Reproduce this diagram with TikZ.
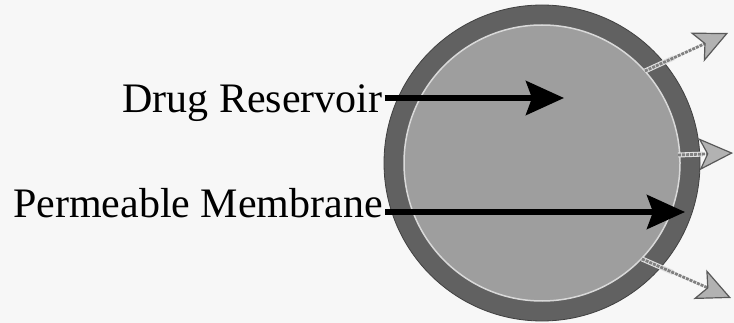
\documentclass[tikz,border=0pt]{standalone}
\usepackage{fontspec}
\setmainfont{Liberation Serif}
\usetikzlibrary{arrows.meta,calc}
\begin{document}
\begin{tikzpicture}[x=1pt,y=-1pt,
  lab/.style={inner sep=0pt, anchor=base west, font=\fontsize{42}{50}\selectfont},
  ringfill/.style={circle, minimum size=316pt, inner sep=0pt, fill=black!62, draw=black!75, line width=0.8pt},
  corefill/.style={circle, minimum size=276pt, inner sep=0pt, fill=black!38, draw=white!85!black, line width=1.5pt},
  bigarrow/.style={line width=5.5pt, -{Stealth[length=38pt, width=34pt, inset=6pt]}},
  outcase/.style={line width=5pt, white!88!black},
  outarrow/.style={line width=2.8pt, black!50, dash pattern=on 3pt off 1pt,
     -{Stealth[length=34pt, width=32pt, inset=8pt, fill=black!30, color=black!65, line width=1.2pt, sep=0pt]}}
]
\useasboundingbox (0,0) rectangle (734,323);
\fill[white!97!black] (0,0) rectangle (734,323);
% reservoir
\node[ringfill] (ring) at (542,163) {};
\node[corefill] (core) at (542,163) {};
% labels
\node[lab] (drug) at (122,113) {Drug Reservoir};
\node[lab] (memb) at (13,218) {Permeable Membrane};
% arrow ends
\coordinate (drugtip) at (564,98);
\coordinate (membtip) at (685,212);
\coordinate (o1s) at (645,71);
\coordinate (o1e) at (728,33);
\coordinate (o2s) at (678,155);
\coordinate (o2e) at (733,153);
\coordinate (o3s) at (642,259);
\coordinate (o3e) at (731,298);
% release arrows
\draw[outcase] (o1s) -- ($(o1s)!0.35!(o1e)$);
\draw[outcase] (o2s) -- ($(o2s)!0.45!(o2e)$);
\draw[outcase] (o3s) -- ($(o3s)!0.35!(o3e)$);
\draw[outarrow] (o1s) -- (o1e);
\draw[outarrow] (o2s) -- (o2e);
\draw[outarrow] (o3s) -- (o3e);
% label arrows
\draw[bigarrow] ([xshift=2pt,yshift=15pt]drug.base east) -- (drugtip);
\draw[bigarrow] ([xshift=2pt,yshift=6pt]memb.base east) -- (membtip);
\end{tikzpicture}
\end{document}
